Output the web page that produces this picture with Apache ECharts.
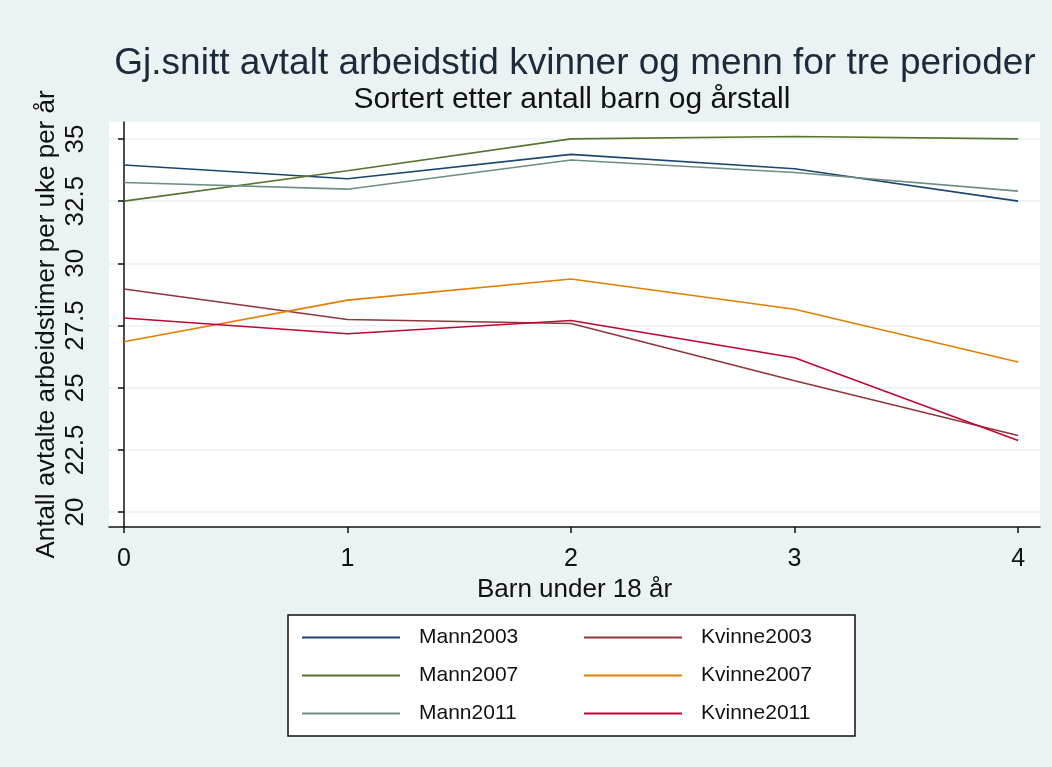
<html>
<head>
<meta http-equiv="Content-Type" content="text/html; charset=utf-8" />
<title>Arbeidstid</title>
<script src="https://cdn.jsdelivr.net/npm/echarts@6/dist/echarts.min.js"></script>
<style>
  body { margin: 0; background: #eaf2f3; }
  #chart { width: 1052px; height: 767px; }
</style>
</head>
<body>
<div id="chart"></div>
<script>
// antall barn under 18 år
var barn = [0, 1, 2, 3, 4];
var yTicks = [20, 22.5, 25, 27.5, 30, 32.5, 35];

// gjennomsnittlig avtalt arbeidstid, lest av figuren
var mann2003 = [33.95, 33.40, 34.38, 33.80, 32.50];
var mann2007 = [32.50, 33.72, 35.00, 35.10, 35.00];
var mann2011 = [33.25, 32.98, 34.15, 33.65, 32.90];
var kvinne2003 = [28.97, 27.74, 27.58, 25.28, 23.08];
var kvinne2007 = [26.85, 28.52, 29.37, 28.15, 26.03];
var kvinne2011 = [27.80, 27.17, 27.70, 26.20, 22.88];

var seriesNames = ['Mann2003', 'Kvinne2003', 'Mann2007', 'Kvinne2007', 'Mann2011', 'Kvinne2011'];
var seriesData = [mann2003, kvinne2003, mann2007, kvinne2007, mann2011, kvinne2011];
var colors = ['#1a476f', '#90353b', '#55752f', '#e37e00', '#6e8e84', '#c10534'];

var font = 'Liberation Sans, Arial, sans-serif';

function makeSeries() {
  var list = [];
  for (var i = 0; i < seriesNames.length; i++) {
    var pts = [];
    for (var j = 0; j < barn.length; j++) {
      pts.push([barn[j], seriesData[i][j]]);
    }
    list.push({
      name: seriesNames[i],
      type: 'line',
      symbol: 'none',
      data: pts,
      lineStyle: { width: 1.6, color: colors[i] },
      itemStyle: { color: colors[i] },
      animation: false
    });
  }
  return list;
}

var myChart = echarts.init(document.getElementById('chart'));
var option = {
  backgroundColor: '#eaf2f3',
  textStyle: { fontFamily: font },
  title: [
    {
      text: 'Gj.snitt avtalt arbeidstid kvinner og menn for tre perioder',
      left: 570, top: 40, textAlign: 'center',
      textStyle: { fontFamily: font, fontSize: 37, fontWeight: 'normal', color: '#1c2a3a' }
    },
    {
      text: 'Sortert etter antall barn og årstall',
      left: 567, top: 80, textAlign: 'center',
      textStyle: { fontFamily: font, fontSize: 30, fontWeight: 'normal', color: '#111' }
    }
  ],
  grid: {
    left: 109, right: 12, top: 122, bottom: 240,
    show: true, backgroundColor: '#ffffff', borderWidth: 0
  },
  xAxis: {
    type: 'value',
    min: -0.067, max: 4.098,
    name: 'Barn under 18 år',
    nameLocation: 'middle',
    nameGap: 45,
    nameTextStyle: { fontFamily: font, fontSize: 26, color: '#111' },
    axisLine: { show: true, lineStyle: { color: '#111', width: 1.5 } },
    axisTick: { show: true, length: 6, customValues: barn, lineStyle: { color: '#111', width: 1.5 } },
    axisLabel: { customValues: barn, fontFamily: font, fontSize: 25, color: '#111', margin: 20 },
    splitLine: { show: false }
  },
  yAxis: {
    type: 'value',
    min: 19.4, max: 35.68,
    name: 'Antall avtalte arbeidstimer per uke per år',
    nameLocation: 'middle',
    nameRotate: 90,
    nameGap: 49,
    nameMoveOverlap: false,
    nameTextStyle: { fontFamily: font, fontSize: 26, color: '#111' },
    axisLine: { show: true, lineStyle: { color: '#111', width: 1.5 } },
    axisTick: { show: true, length: 6, customValues: yTicks, lineStyle: { color: '#111', width: 1.5 } },
    axisLabel: { customValues: yTicks, rotate: 90, fontFamily: font, fontSize: 26, color: '#111', margin: 20 },
    splitLine: { show: true, lineStyle: { color: '#eaf2f3', width: 1.5 } }
  },
  legend: {
    left: 288, top: 615,
    width: 555,
    orient: 'horizontal',
    data: seriesNames,
    icon: 'rect',
    itemWidth: 98, itemHeight: 2, itemGap: 17,
    padding: [12, 6, 12, 14],
    backgroundColor: '#ffffff',
    borderColor: '#111', borderWidth: 1.5,
    textStyle: {
      fontFamily: font, fontSize: 21, color: '#111', lineHeight: 21,
      width: 148, overflow: 'truncate', padding: [0, 0, 0, 14]
    }
  },
  series: makeSeries()
};
myChart.setOption(option);
</script>
</body>
</html>
